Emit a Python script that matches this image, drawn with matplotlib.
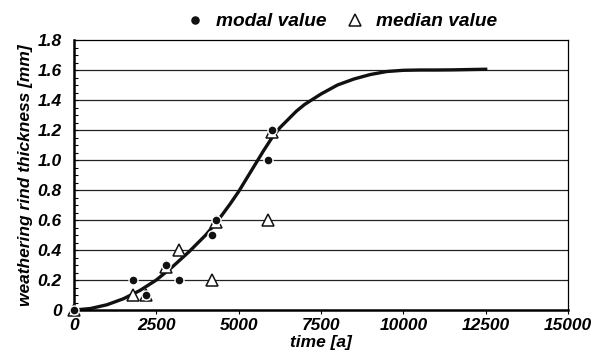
import matplotlib
matplotlib.use("Agg")
import matplotlib.pyplot as plt
from matplotlib.ticker import MultipleLocator

plt.rcParams['font.family'] = ['Liberation Sans', 'DejaVu Sans']

# curve
curve_t = [0, 500, 1000, 1500, 2000, 2500, 3000, 3500, 4000, 4250, 4500, 4750,
           5000, 5250, 5500, 5750, 6000, 6250, 6500, 6750, 7000, 7500, 8000,
           8500, 9000, 9500, 10000, 10500, 11000, 11500, 12000, 12500]
curve_v = [0, 0.01, 0.035, 0.075, 0.13, 0.2, 0.29, 0.39, 0.5, 0.565, 0.635, 0.71,
           0.79, 0.88, 0.97, 1.06, 1.145, 1.215, 1.27, 1.325, 1.37, 1.44, 1.5,
           1.54, 1.57, 1.59, 1.598, 1.6, 1.6, 1.601, 1.603, 1.605]

modal_t = [0, 1800, 2200, 2800, 3200, 4200, 4300, 5900, 6000]
modal_v = [0, 0.2, 0.1, 0.3, 0.2, 0.5, 0.6, 1.0, 1.2]

median_t = [0, 1800, 2200, 2800, 3200, 4200, 4300, 5900, 6000]
median_v = [0, 0.1, 0.1, 0.29, 0.4, 0.2, 0.59, 0.6, 1.19]

fig = plt.figure(figsize=(6.03, 3.62), dpi=100)
ax = fig.add_axes([0.1227, 0.1436, 0.8193, 0.7459])

fs = 12.5
fp = dict(fontsize=fs, fontweight='bold', fontstyle='italic')

for y in [0.2, 0.4, 0.6, 0.8, 1.0, 1.2, 1.4, 1.6]:
    ax.axhline(y, color='#222222', lw=0.9, zorder=1)

ax.plot(curve_t, curve_v, color='#111111', lw=2.4, zorder=2,
        solid_joinstyle='round')
ax.plot(median_t, median_v, linestyle='none', marker='^', ms=8.5,
        mfc='white', mec='#111111', mew=1.1, zorder=3, label='median value',
        clip_on=False)
ax.plot(modal_t, modal_v, linestyle='none', marker='o', ms=6.5,
        mfc='#111111', mec='white', mew=1.0, zorder=4, label='modal value',
        clip_on=False)

ax.set_xlim(0, 15000)
ax.set_ylim(0, 1.8)
ax.set_xticks([0, 2500, 5000, 7500, 10000, 12500, 15000])
ax.set_yticks([0, 0.2, 0.4, 0.6, 0.8, 1.0, 1.2, 1.4, 1.6, 1.8])
ax.set_yticklabels(['0', '0.2', '0.4', '0.6', '0.8', '1.0', '1.2', '1.4', '1.6', '1.8'])
ax.yaxis.set_minor_locator(MultipleLocator(0.05))
ax.tick_params(axis='y', which='both', direction='in', length=3, width=0.8, pad=9)
ax.tick_params(axis='x', direction='out', length=3, width=0.8, pad=3)
for lab in ax.get_xticklabels() + ax.get_yticklabels():
    lab.set_fontsize(fs)
    lab.set_fontweight('bold')
    lab.set_fontstyle('italic')

ax.spines['left'].set_linewidth(1.8)
ax.spines['bottom'].set_linewidth(1.8)
ax.spines['top'].set_linewidth(0.9)
ax.spines['right'].set_linewidth(0.9)

ax.set_xlabel('time [a]', labelpad=1, **fp)
ax.set_ylabel('weathering rind thickness [mm]', labelpad=3, **fp)

h, l = ax.get_legend_handles_labels()
leg = ax.legend(h[::-1], l[::-1], loc='lower center', bbox_to_anchor=(0.535, 1.0),
                ncol=2, frameon=False, handletextpad=0.3, columnspacing=0.7,
                handlelength=1.6, markerscale=1.1,
                prop=dict(size=13.8, weight='bold', style='italic'),
                borderaxespad=0.1)

fig.savefig('out.png', dpi=100)
